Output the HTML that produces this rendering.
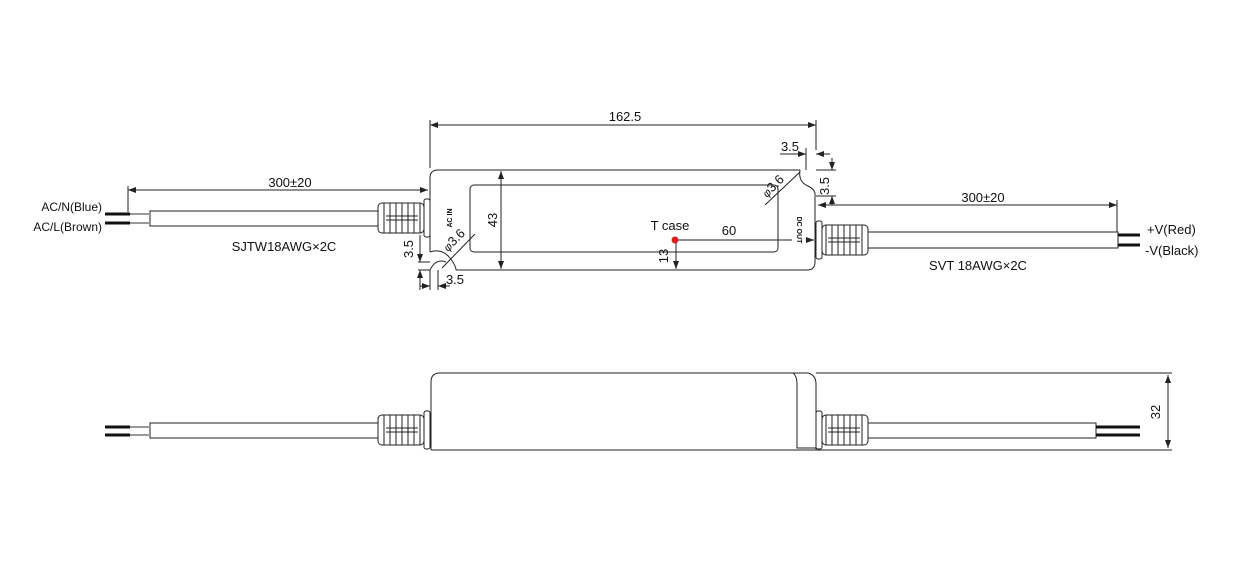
<!DOCTYPE html>
<html><head><meta charset="utf-8"><style>
html,body{margin:0;padding:0;background:#fff;}
svg{display:block;}
text{font-family:"Liberation Sans",Arial,sans-serif;fill:#111;}
</style></head><body>
<svg width="1256" height="582" viewBox="0 0 1256 582" xmlns="http://www.w3.org/2000/svg">
<defs>
<marker id="a" markerWidth="8" markerHeight="6" refX="8" refY="3" orient="auto-start-reverse" markerUnits="userSpaceOnUse"><path d="M0,0 L8,3 L0,6 z" fill="#222"/></marker>
<g id="conn" stroke="#222" stroke-width="1" fill="#fff">
<rect x="0" y="-15" width="46" height="30" rx="4"/>
<rect x="46" y="-19" width="6" height="38" rx="2"/>
<path d="M6,-15 V15 M12,-15 V15 M18,-15 V15 M24,-15 V15 M30,-15 V15 M36,-15 V15 M42,-15 V15" />
<path d="M8,-2 H40 M8,2 H40" />
</g>
</defs>
<g stroke="#222" stroke-width="1" fill="none">
<line x1="430" y1="120" x2="430" y2="168"/>
<line x1="816" y1="120" x2="816" y2="150"/>
<line x1="430" y1="125" x2="816" y2="125" marker-start="url(#a)" marker-end="url(#a)"/>
<path d="M430,178 Q430,170 438,170 H800 M815,196 V262 Q815,270 807,270 H456 M430,252 V178"/>
<path d="M800,170 Q798,182 808,186 Q816,190 815,196"/>
<path d="M430,252 Q442,248 450,258 Q456,266 456,270 M430,270 Q436,258 446,262"/>
<rect x="470" y="185" width="308" height="67" rx="4"/>
<line x1="501" y1="171" x2="501" y2="269" marker-start="url(#a)" marker-end="url(#a)"/>
<line x1="442" y1="268" x2="475" y2="234"/>
<line x1="765" y1="205" x2="800" y2="172"/>
<line x1="418" y1="262" x2="430" y2="262"/>
<line x1="418" y1="270" x2="430" y2="270"/>
<line x1="420" y1="235" x2="420" y2="262" marker-end="url(#a)"/>
<line x1="420" y1="290" x2="420" y2="270" marker-end="url(#a)"/>
<line x1="430" y1="270" x2="430" y2="290"/>
<line x1="438" y1="270" x2="438" y2="290"/>
<line x1="420" y1="286" x2="430" y2="286" marker-end="url(#a)"/>
<line x1="450" y1="286" x2="438" y2="286" marker-end="url(#a)"/>
<line x1="806" y1="148" x2="806" y2="170"/>
<line x1="780" y1="154" x2="806" y2="154" marker-end="url(#a)"/>
<line x1="830" y1="154" x2="816" y2="154" marker-end="url(#a)"/>
<line x1="816" y1="170" x2="836" y2="170"/>
<line x1="816" y1="196" x2="836" y2="196"/>
<line x1="832" y1="158" x2="832" y2="170" marker-end="url(#a)"/>
<line x1="832" y1="205" x2="832" y2="196" marker-end="url(#a)"/>
<line x1="676" y1="240" x2="792" y2="240"/>
<line x1="676" y1="240" x2="676" y2="269" marker-end="url(#a)"/>
<line x1="128" y1="186" x2="128" y2="212"/>
<line x1="128" y1="190" x2="428" y2="190" marker-start="url(#a)" marker-end="url(#a)"/>
<rect x="150" y="211" width="228" height="15"/>
<line x1="1117" y1="200" x2="1117" y2="232"/>
<line x1="818" y1="205" x2="1117" y2="205" marker-start="url(#a)" marker-end="url(#a)"/>
<rect x="868" y="232" width="250" height="16"/>
<line x1="806" y1="240" x2="814" y2="240" marker-end="url(#a)"/>
<path d="M431,450 V382 Q431,373 440,373 H808 Q816,375 816,384 V450 H431"/>
<path d="M793,373 Q797,376 797,384 V448 H816"/>
<rect x="150" y="423" width="228" height="15"/>
<rect x="868" y="423" width="228" height="15"/>
<line x1="816" y1="373" x2="1172" y2="373"/>
<line x1="816" y1="450" x2="1172" y2="450"/>
<line x1="1168" y1="375" x2="1168" y2="448" marker-start="url(#a)" marker-end="url(#a)"/>
</g>
<g stroke-width="3">
<line x1="105" y1="214" x2="130" y2="214" stroke="#111"/><line x1="130" y1="214" x2="150" y2="214" stroke="#999" stroke-width="2"/>
<line x1="105" y1="223" x2="130" y2="223" stroke="#111"/><line x1="130" y1="223" x2="150" y2="223" stroke="#999" stroke-width="2"/>
<line x1="1118" y1="235" x2="1140" y2="235" stroke="#111"/><line x1="1118" y1="245" x2="1140" y2="245" stroke="#111"/>
<line x1="105" y1="427" x2="130" y2="427" stroke="#111"/><line x1="130" y1="427" x2="150" y2="427" stroke="#999" stroke-width="2"/>
<line x1="105" y1="435" x2="130" y2="435" stroke="#111"/><line x1="130" y1="435" x2="150" y2="435" stroke="#999" stroke-width="2"/>
<line x1="1096" y1="427" x2="1140" y2="427" stroke="#111"/><line x1="1096" y1="435" x2="1140" y2="435" stroke="#111"/>
</g>
<use href="#conn" transform="translate(378,218)"/>
<use href="#conn" transform="translate(868,240) scale(-1,1)"/>
<use href="#conn" transform="translate(378,430)"/>
<use href="#conn" transform="translate(868,430) scale(-1,1)"/>
<circle cx="675" cy="240" r="3.5" fill="#e02020"/>
<text x="625" y="121" font-size="13" text-anchor="middle">162.5</text>
<text x="290" y="187" font-size="13" text-anchor="middle">300±20</text>
<text x="983" y="202" font-size="13" text-anchor="middle">300±20</text>
<text x="790" y="151" font-size="13" text-anchor="middle">3.5</text>
<text x="455" y="284" font-size="13" text-anchor="middle">3.5</text>
<text x="102" y="211" font-size="12" text-anchor="end">AC/N(Blue)</text>
<text x="102" y="231" font-size="12" text-anchor="end">AC/L(Brown)</text>
<text x="1147" y="234" font-size="13">+V(Red)</text>
<text x="1145" y="255" font-size="13">-V(Black)</text>
<text x="284" y="251" font-size="13" text-anchor="middle">SJTW18AWG×2C</text>
<text x="978" y="270" font-size="13" text-anchor="middle">SVT 18AWG×2C</text>
<text x="670" y="230" font-size="13" text-anchor="middle">T case</text>
<text x="729" y="235" font-size="13" text-anchor="middle">60</text>
<text transform="translate(668,256) rotate(-90)" font-size="13" text-anchor="middle">13</text>
<text transform="translate(497,220) rotate(-90)" font-size="13" text-anchor="middle">43</text>
<text transform="translate(413,249) rotate(-90)" font-size="13" text-anchor="middle">3.5</text>
<text transform="translate(829,186) rotate(-90)" font-size="13" text-anchor="middle">3.5</text>
<text transform="translate(1160,412) rotate(-90)" font-size="13" text-anchor="middle">32</text>
<text transform="translate(448,252) rotate(-45)" font-size="13"><tspan font-style="italic" font-size="11">φ</tspan>3.6</text>
<text transform="translate(767,198) rotate(-45)" font-size="13"><tspan font-style="italic" font-size="11">φ</tspan>3.6</text>
<text transform="translate(452,218) rotate(-90)" font-size="7" font-weight="bold" text-anchor="middle">AC IN</text>
<text transform="translate(797,230) rotate(90)" font-size="7" font-weight="bold" text-anchor="middle">DC OUT</text>
</svg>
</body></html>
